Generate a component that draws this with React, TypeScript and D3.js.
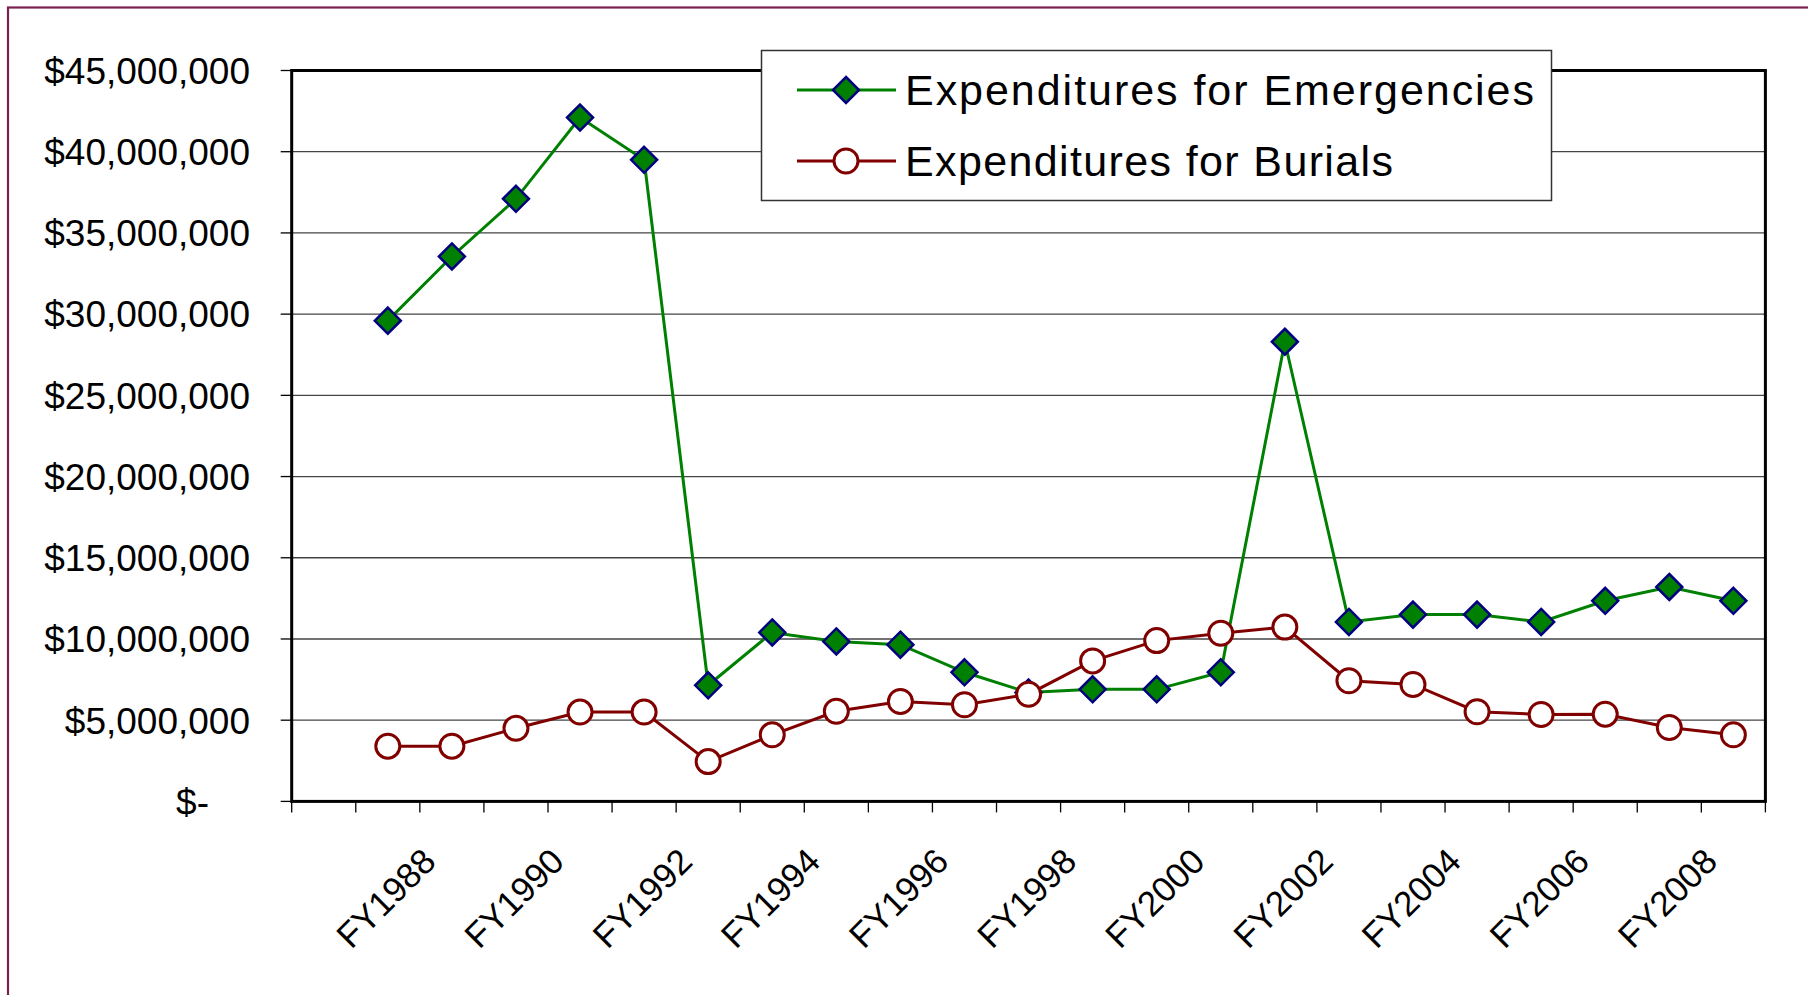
import { scaleBand, scaleLinear, line, format } from "d3";

// first slot is empty in the source chart (no data, no label)
const categories = [
  "", "FY1987", "FY1988", "FY1989", "FY1990", "FY1991", "FY1992", "FY1993",
  "FY1994", "FY1995", "FY1996", "FY1997", "FY1998", "FY1999", "FY2000",
  "FY2001", "FY2002", "FY2003", "FY2004", "FY2005", "FY2006", "FY2007", "FY2008",
];

const years = categories.slice(1);

// values in millions of dollars
const emergencies = [
  29.6, 33.55, 37.1, 42.1, 39.5, 7.15, 10.4, 9.85, 9.65, 7.95, 6.7,
  6.9, 6.9, 7.95, 28.3, 11.05, 11.5, 11.5, 11.05, 12.35, 13.2, 12.35,
];

const burials = [
  3.4, 3.4, 4.5, 5.5, 5.5, 2.45, 4.1, 5.55, 6.15, 5.95, 6.6,
  8.65, 9.9, 10.35, 10.73, 7.43, 7.2, 5.52, 5.35, 5.37, 4.55, 4.1,
];

const yTicks = [0, 5e6, 10e6, 15e6, 20e6, 25e6, 30e6, 35e6, 40e6, 45e6];

const seriesNames = ["Expenditures for Emergencies", "Expenditures for Burials"];

const W = 1808;
const H = 995;
const FONT = "'Liberation Sans', Arial, sans-serif";

const plot = { left: 291.7, right: 1765.4, top: 70.5, bottom: 801.4 };

const GREEN = "#008000";
const NAVY = "#000080";
const MAROON = "#800000";

// square diamond, like Excel's marker
const DIAMOND = "M0,-13L13,0L0,13L-13,0Z";

export default function App() {
  const x = scaleBand<string>().domain(categories).range([plot.left, plot.right]).padding(0);
  const y = scaleLinear().domain([0, 45e6]).range([plot.bottom, plot.top]);
  const cx = (k: string) => (x(k) ?? 0) + x.bandwidth() / 2;

  const fmt = format("$,");
  const path = line<[string, number]>()
    .x((d) => cx(d[0]))
    .y((d) => y(d[1] * 1e6));

  const emerg = years.map((k, i) => [k, emergencies[i]] as [string, number]);
  const bur = years.map((k, i) => [k, burials[i]] as [string, number]);

  const legend = { x: 761.5, y: 50.5, w: 790, h: 150 };

  return (
    <div style={{ position: "fixed", left: 0, top: 0, width: W, height: H, background: "#fff" }}>
      <svg width={W} height={H} style={{ display: "block" }}>
        <rect x={0} y={0} width={W} height={H} fill="#fff" />
        {/* outer chart frame (runs off the right/bottom edge) */}
        <rect x={8} y={7.5} width={W + 20} height={H + 20} fill="none" stroke="#7b1f4f" strokeWidth={2.2} />

        {/* gridlines + y ticks */}
        {yTicks.map((t) => (
          <g key={t}>
            {t > 0 && t < 45e6 && (
              <line x1={plot.left} x2={plot.right} y1={y(t)} y2={y(t)} stroke="#444" strokeWidth={1.3} />
            )}
            <line x1={plot.left - 11} x2={plot.left} y1={y(t)} y2={y(t)} stroke="#000" strokeWidth={1.3} />
            <text
              x={t === 0 ? 250 - 41 : 250}
              y={y(t)}
              dy="0.36em"
              textAnchor="end"
              fontFamily={FONT}
              fontSize={37}
              fill="#000"
            >
              {t === 0 ? "$-" : fmt(t)}
            </text>
          </g>
        ))}

        {/* x ticks at category boundaries */}
        {categories.map((c, i) => (
          <line
            key={"xt" + i}
            x1={x(c)}
            x2={x(c)}
            y1={plot.bottom}
            y2={plot.bottom + 11}
            stroke="#000"
            strokeWidth={1.3}
          />
        ))}
        <line x1={plot.right} x2={plot.right} y1={plot.bottom} y2={plot.bottom + 11} stroke="#000" strokeWidth={1.3} />

        {/* x labels, every other category */}
        {categories.map((c, i) =>
          i % 2 === 0 && c ? (
            <text
              key={"xl" + c}
              transform={`translate(${cx(c) - 14},${plot.bottom + 62}) rotate(-45)`}
              textAnchor="end"
              fontFamily={FONT}
              fontSize={35}
              fill="#000"
            >
              {c}
            </text>
          ) : null
        )}

        {/* plot frame */}
        <rect
          x={plot.left}
          y={plot.top}
          width={plot.right - plot.left}
          height={plot.bottom - plot.top}
          fill="none"
          stroke="#000"
          strokeWidth={3}
        />

        {/* emergencies */}
        <path d={path(emerg) ?? ""} fill="none" stroke={GREEN} strokeWidth={3} />
        {emerg.map((d) => (
          <path
            key={"e" + d[0]}
            d={DIAMOND}
            transform={`translate(${cx(d[0])},${y(d[1] * 1e6)})`}
            fill={GREEN}
            stroke={NAVY}
            strokeWidth={2.5}
          />
        ))}

        {/* burials */}
        <path d={path(bur) ?? ""} fill="none" stroke={MAROON} strokeWidth={3} />
        {bur.map((d) => (
          <circle
            key={"b" + d[0]}
            cx={cx(d[0])}
            cy={y(d[1] * 1e6)}
            r={12}
            fill="#fff"
            stroke={MAROON}
            strokeWidth={3}
          />
        ))}

        {/* legend */}
        <rect
          x={legend.x}
          y={legend.y}
          width={legend.w}
          height={legend.h}
          fill="#fff"
          stroke="#333"
          strokeWidth={1.5}
        />
        {seriesNames.map((name, i) => {
          const ly = i === 0 ? 90 : 161;
          const color = i === 0 ? GREEN : MAROON;
          return (
            <g key={name}>
              <line x1={797} x2={896} y1={ly} y2={ly} stroke={color} strokeWidth={3} />
              {i === 0 ? (
                <path d={DIAMOND} transform={`translate(846,${ly})`} fill={GREEN} stroke={NAVY} strokeWidth={2.5} />
              ) : (
                <circle cx={846} cy={ly} r={12} fill="#fff" stroke={MAROON} strokeWidth={3} />
              )}
              <text
                x={905}
                y={ly}
                dy="0.36em"
                fontFamily={FONT}
                fontSize={43}
                fill="#000"
                textLength={i === 0 ? 629 : 488}
                lengthAdjust="spacing"
              >
                {name}
              </text>
            </g>
          );
        })}
      </svg>
    </div>
  );
}
